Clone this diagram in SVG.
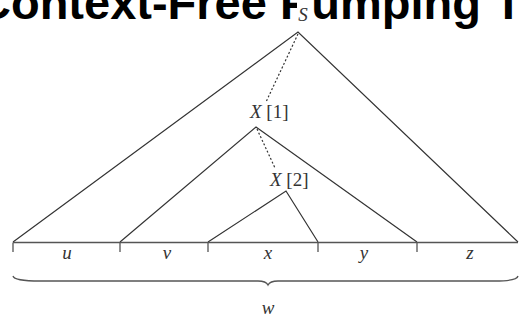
<svg xmlns="http://www.w3.org/2000/svg" width="519" height="320" viewBox="0 0 519 320">
<style>
.title{font-family:"Liberation Sans",Arial,sans-serif;font-weight:bold;font-size:47px;fill:#000}
.lbl{font-family:"Liberation Serif","Times New Roman",serif;font-size:19px;fill:#333}
.it{font-style:italic}
.ln{stroke:#333;stroke-width:1.2;fill:none}
.dot{stroke:#333;stroke-width:1.2;fill:none;stroke-dasharray:2 2}
.base{stroke:#555;stroke-width:1.3;fill:none}
</style>
<rect width="519" height="320" fill="#fff"/>
<text class="title" x="-23" y="19">Context-Free Pumping T</text>
<rect x="297" y="0" width="16" height="24" fill="#fff"/>
<g id="connectors">
<path class="ln" d="M13,242 L298,32 L518,242"/>
<path class="ln" d="M120,242 L256,127 L417,242"/>
<path class="ln" d="M208,242 L286,191 L318,242"/>
<path class="dot" d="M298,34 L266,102"/>
<path class="dot" d="M257,129 L275,168"/>
</g>
<g id="node-S"><text class="lbl it" x="303" y="21" text-anchor="middle">S</text></g>
<g id="node-X1"><text class="lbl" x="250" y="118"><tspan class="it">X</tspan> [1]</text></g>
<g id="node-X2"><text class="lbl" x="270" y="186"><tspan class="it">X</tspan> [2]</text></g>
<g id="baseline">
<path class="base" d="M13,242.5 L518,242.5 M13,242.5 V252 M120,242.5 V252 M208,242.5 V252 M318,242.5 V252 M417,242.5 V252"/>
</g>
<g id="seg-u"><text class="lbl it" x="67" y="259" text-anchor="middle">u</text></g>
<g id="seg-v"><text class="lbl it" x="167" y="259" text-anchor="middle">v</text></g>
<g id="seg-x"><text class="lbl it" x="268" y="259" text-anchor="middle">x</text></g>
<g id="seg-y"><text class="lbl it" x="364" y="259" text-anchor="middle">y</text></g>
<g id="seg-z"><text class="lbl it" x="470" y="259" text-anchor="middle">z</text></g>
<g id="brace">
<path class="base" d="M13,276 Q14,281 40,281 L258,281 Q266,281 268,285 Q270,281 278,281 L495,281 Q517,281 518,276"/>
</g>
<g id="node-w"><text class="lbl it" x="268" y="314" text-anchor="middle">w</text></g>
</svg>
